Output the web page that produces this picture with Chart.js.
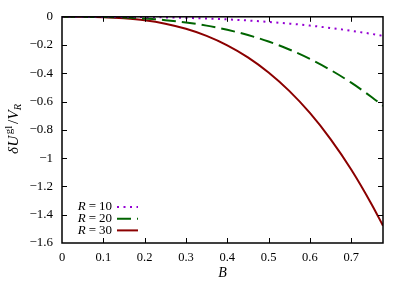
<!DOCTYPE html>
<html>
<head>
<meta charset="utf-8">
<script src="https://cdn.jsdelivr.net/npm/chart.js@4/dist/chart.umd.min.js"></script>
<style>
  html, body { margin: 0; padding: 0; background: #fff; }
</style>
</head>
<body>
<canvas id="plot" width="407" height="285"></canvas>
<script>
// values
const bValues = [0, 0.05, 0.1, 0.15, 0.2, 0.25, 0.3, 0.35, 0.4, 0.45, 0.5, 0.55, 0.6, 0.65, 0.7, 0.75, 0.777];
const r10 = [0, 0, -0.0003, -0.001, -0.0023, -0.0045, -0.0078, -0.0123, -0.0184, -0.026, -0.036, -0.048, -0.062, -0.079, -0.099, -0.121, -0.135];
const r20 = [0, -0.0002, -0.0017, -0.0053, -0.0123, -0.0236, -0.040, -0.0624, -0.092, -0.129, -0.175, -0.231, -0.298, -0.376, -0.466, -0.569, -0.63];
const r30 = [0, -0.0004, -0.003, -0.011, -0.025, -0.049, -0.085, -0.135, -0.202, -0.287, -0.394, -0.524, -0.680, -0.865, -1.080, -1.329, -1.478];
const seriesLabels = ['10', '20', '30'];
const xTickStep = 0.1;
const yTickStep = 0.2;

const FONT = '"Liberation Serif", "DejaVu Serif", serif';

function pts(ys) {
  return bValues.map((b, i) => ({ x: b, y: ys[i] }));
}

function fmt(v) {
  const r = Math.round(v * 10) / 10;
  if (r === 0) return '0';
  return (r < 0 ? '\u2212' : '') + String(Math.abs(r));
}

// pieces are [text, font, dy, gapAfter]
function drawPieces(ctx, pieces, x, y) {
  pieces.forEach(p => {
    ctx.font = p[1];
    ctx.fillText(p[0], x, y + (p[2] || 0));
    x += ctx.measureText(p[0]).width + (p[3] || 0);
  });
}
function piecesWidth(ctx, pieces) {
  let w = 0;
  pieces.forEach(p => { ctx.font = p[1]; w += ctx.measureText(p[0]).width + (p[3] || 0); });
  return w;
}

const framePlugin = {
  id: 'frame',
  afterDraw(chart) {
    const { ctx, chartArea: a, scales } = chart;
    ctx.save();
    ctx.strokeStyle = '#000';
    ctx.lineWidth = 1;
    ctx.beginPath();
    scales.x.ticks.forEach(t => {
      if (t.value <= 0) return;
      const px = Math.round(scales.x.getPixelForValue(t.value)) + 0.5;
      ctx.moveTo(px, a.bottom); ctx.lineTo(px, a.bottom - 5);
      ctx.moveTo(px, a.top); ctx.lineTo(px, a.top + 5);
    });
    scales.y.ticks.forEach(t => {
      if (t.value >= 0 || t.value <= -1.6) return;
      const py = Math.round(scales.y.getPixelForValue(t.value)) + 0.5;
      ctx.moveTo(a.left, py); ctx.lineTo(a.left + 5, py);
      ctx.moveTo(a.right, py); ctx.lineTo(a.right - 5, py);
    });
    ctx.stroke();
    ctx.lineWidth = 1.5;
    ctx.strokeRect(a.left, a.top, a.right - a.left, a.bottom - a.top);

    ctx.fillStyle = '#000';
    ctx.textBaseline = 'middle';

    // x title
    ctx.textAlign = 'center';
    ctx.font = 'italic 14px ' + FONT;
    ctx.fillText('B', (a.left + a.right) / 2, 273);

    // y title
    ctx.textAlign = 'left';
    const yt = [
      ['\u03b4', 'italic 15px ' + FONT, 0, 0.5],
      ['U', 'italic 15px ' + FONT, 0, 1.5],
      ['gl', '11px ' + FONT, -5, 1.5],
      ['/', '15px ' + FONT, 0, 0.5],
      ['V', 'italic 15px ' + FONT, 0, 0],
      ['R', 'italic 10.5px ' + FONT, 4, 0]
    ];
    ctx.save();
    ctx.translate(14, (a.top + a.bottom) / 2 - 1);
    ctx.rotate(-Math.PI / 2);
    drawPieces(ctx, yt, -piecesWidth(ctx, yt) / 2, 0);
    ctx.restore();

    // legend
    chart.data.datasets.forEach((ds, i) => {
      const ly = 207 + i * 11.7;
      const pieces = [
        ['R', 'italic 13px ' + FONT, 0, 3],
        ['=', '13px ' + FONT, 0, 3],
        [seriesLabels[i], '13px ' + FONT, 0, 0]
      ];
      ctx.fillStyle = '#000';
      drawPieces(ctx, pieces, 112 - piecesWidth(ctx, pieces), ly);
      ctx.strokeStyle = ds.borderColor;
      ctx.lineWidth = ds.borderWidth;
      ctx.setLineDash(ds.borderDash || []);
      ctx.beginPath();
      ctx.moveTo(117, ly);
      ctx.lineTo(138, ly);
      ctx.stroke();
      ctx.setLineDash([]);
    });
    ctx.restore();
  }
};

new Chart(document.getElementById('plot'), {
  type: 'line',
  data: {
    datasets: [
      { label: 'R = 10', data: pts(r10), borderColor: '#9400d3', borderWidth: 2, borderDash: [2, 4.5], borderCapStyle: 'butt' },
      { label: 'R = 20', data: pts(r20), borderColor: '#006400', borderWidth: 2, borderDash: [14, 6] },
      { label: 'R = 30', data: pts(r30), borderColor: '#8b0000', borderWidth: 2 }
    ]
  },
  options: {
    responsive: false,
    animation: false,
    elements: {
      point: { radius: 0 },
      line: { cubicInterpolationMode: 'monotone', fill: false }
    },
    layout: { padding: { top: 13, right: 24, left: 0, bottom: 0 } },
    scales: {
      x: {
        type: 'linear',
        min: 0,
        max: 0.777,
        grid: { display: false, drawTicks: false },
        border: { display: false },
        ticks: {
          stepSize: xTickStep,
          includeBounds: false,
          maxRotation: 0,
          padding: 7,
          color: '#000',
          font: { family: FONT, size: 12.5 },
          callback: v => fmt(v)
        },
        afterFit: s => { s.height = 42; }
      },
      y: {
        min: -1.6,
        max: 0,
        grid: { display: false, drawTicks: false },
        border: { display: false },
        ticks: {
          stepSize: yTickStep,
          padding: 9,
          color: '#000',
          font: { family: FONT, size: 13 },
          callback: v => fmt(v)
        },
        afterFit: s => { s.width = 62; }
      }
    },
    plugins: {
      legend: { display: false },
      tooltip: { enabled: false }
    }
  },
  plugins: [framePlugin]
});
</script>
</body>
</html>
